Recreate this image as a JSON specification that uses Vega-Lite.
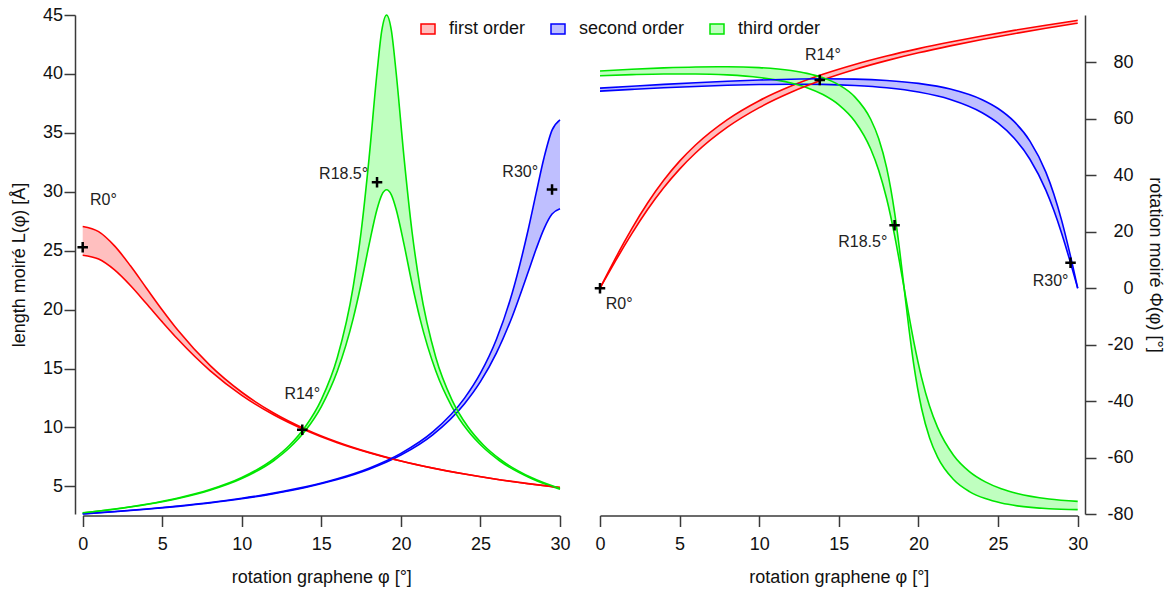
{
  "$schema": "https://vega.github.io/schema/vega-lite/v6.json",
  "width": 1010,
  "height": 499,
  "autosize": {"type": "none"},
  "padding": {"left": 75, "top": 15, "right": 86, "bottom": 76},
  "background": "white",
  "config": {
    "view": {"stroke": null},
    "font": "Liberation Sans",
    "axis": {"grid": false, "domainColor": "#3a3a3a", "domainWidth": 1.5, "tickColor": "#3a3a3a", "tickWidth": 1.5, "tickSize": 11, "labelFontSize": 18, "titleFontSize": 18, "titleFontWeight": "normal", "labelColor": "#111111", "titleColor": "#111111", "labelFont": "Liberation Sans", "titleFont": "Liberation Sans"}
  },
  "datasets": {
    "len": [
      {"order": "first order", "phi": 0, "a": 27.06, "b": 24.62},
      {"order": "first order", "phi": 1, "a": 26.62, "b": 24.29},
      {"order": "first order", "phi": 2, "a": 25.41, "b": 23.37},
      {"order": "first order", "phi": 3, "a": 23.72, "b": 22.05},
      {"order": "first order", "phi": 4, "a": 21.84, "b": 20.52},
      {"order": "first order", "phi": 5, "a": 19.97, "b": 18.96},
      {"order": "first order", "phi": 6, "a": 18.22, "b": 17.46},
      {"order": "first order", "phi": 8, "a": 15.27, "b": 14.83},
      {"order": "first order", "phi": 10, "a": 12.99, "b": 12.73},
      {"order": "first order", "phi": 12, "a": 11.23, "b": 11.08},
      {"order": "first order", "phi": 14, "a": 9.86, "b": 9.77},
      {"order": "first order", "phi": 16, "a": 8.77, "b": 8.71},
      {"order": "first order", "phi": 18, "a": 7.89, "b": 7.86},
      {"order": "first order", "phi": 20, "a": 7.16, "b": 7.15},
      {"order": "first order", "phi": 22, "a": 6.56, "b": 6.55},
      {"order": "first order", "phi": 24, "a": 6.05, "b": 6.05},
      {"order": "first order", "phi": 26, "a": 5.61, "b": 5.61},
      {"order": "first order", "phi": 28, "a": 5.23, "b": 5.24},
      {"order": "first order", "phi": 30, "a": 4.90, "b": 4.91},
      {"order": "second order", "phi": 0, "a": 2.67, "b": 2.68},
      {"order": "second order", "phi": 2, "a": 2.85, "b": 2.87},
      {"order": "second order", "phi": 4, "a": 3.06, "b": 3.09},
      {"order": "second order", "phi": 6, "a": 3.31, "b": 3.34},
      {"order": "second order", "phi": 8, "a": 3.60, "b": 3.63},
      {"order": "second order", "phi": 10, "a": 3.95, "b": 3.99},
      {"order": "second order", "phi": 12, "a": 4.38, "b": 4.43},
      {"order": "second order", "phi": 14, "a": 4.91, "b": 4.96},
      {"order": "second order", "phi": 16, "a": 5.58, "b": 5.65},
      {"order": "second order", "phi": 18, "a": 6.46, "b": 6.55},
      {"order": "second order", "phi": 20, "a": 7.66, "b": 7.80},
      {"order": "second order", "phi": 22, "a": 9.38, "b": 9.62},
      {"order": "second order", "phi": 24, "a": 12.02, "b": 12.49},
      {"order": "second order", "phi": 25, "a": 13.89, "b": 14.61},
      {"order": "second order", "phi": 26, "a": 16.31, "b": 17.47},
      {"order": "second order", "phi": 27, "a": 19.42, "b": 21.43},
      {"order": "second order", "phi": 28, "a": 23.19, "b": 26.78},
      {"order": "second order", "phi": 28.5, "a": 25.14, "b": 29.88},
      {"order": "second order", "phi": 29, "a": 26.88, "b": 32.91},
      {"order": "second order", "phi": 29.5, "a": 28.11, "b": 35.23},
      {"order": "second order", "phi": 30, "a": 28.56, "b": 36.11},
      {"order": "third order", "phi": 0, "a": 2.75, "b": 2.77},
      {"order": "third order", "phi": 2, "a": 3.06, "b": 3.09},
      {"order": "third order", "phi": 4, "a": 3.46, "b": 3.49},
      {"order": "third order", "phi": 6, "a": 3.98, "b": 4.02},
      {"order": "third order", "phi": 8, "a": 4.68, "b": 4.73},
      {"order": "third order", "phi": 10, "a": 5.67, "b": 5.75},
      {"order": "third order", "phi": 12, "a": 7.18, "b": 7.33},
      {"order": "third order", "phi": 13, "a": 8.28, "b": 8.49},
      {"order": "third order", "phi": 14, "a": 9.74, "b": 10.08},
      {"order": "third order", "phi": 15, "a": 11.78, "b": 12.37},
      {"order": "third order", "phi": 16, "a": 14.77, "b": 15.92},
      {"order": "third order", "phi": 17, "a": 19.24, "b": 21.94},
      {"order": "third order", "phi": 17.5, "a": 22.20, "b": 26.61},
      {"order": "third order", "phi": 18, "a": 25.51, "b": 32.86},
      {"order": "third order", "phi": 18.5, "a": 28.52, "b": 40.12},
      {"order": "third order", "phi": 18.8, "a": 29.74, "b": 43.69},
      {"order": "third order", "phi": 19.1, "a": 30.17, "b": 45.0},
      {"order": "third order", "phi": 19.4, "a": 29.74, "b": 43.69},
      {"order": "third order", "phi": 19.7, "a": 28.52, "b": 40.12},
      {"order": "third order", "phi": 20.2, "a": 25.51, "b": 32.86},
      {"order": "third order", "phi": 20.7, "a": 22.20, "b": 26.61},
      {"order": "third order", "phi": 21.2, "a": 19.24, "b": 21.94},
      {"order": "third order", "phi": 22.2, "a": 14.77, "b": 15.92},
      {"order": "third order", "phi": 23.2, "a": 11.78, "b": 12.37},
      {"order": "third order", "phi": 24.2, "a": 9.74, "b": 10.08},
      {"order": "third order", "phi": 25.2, "a": 8.28, "b": 8.49},
      {"order": "third order", "phi": 26.2, "a": 7.18, "b": 7.33},
      {"order": "third order", "phi": 28.2, "a": 5.67, "b": 5.75},
      {"order": "third order", "phi": 30, "a": 4.76, "b": 4.82}
    ],
    "rot": [
      {"order": "first order", "phi": 0, "a": 0, "b": 0},
      {"order": "first order", "phi": 0.5, "a": 5.49, "b": 4.99},
      {"order": "first order", "phi": 1, "a": 10.89, "b": 9.92},
      {"order": "first order", "phi": 1.5, "a": 16.12, "b": 14.73},
      {"order": "first order", "phi": 2, "a": 21.13, "b": 19.36},
      {"order": "first order", "phi": 3, "a": 30.30, "b": 27.97},
      {"order": "first order", "phi": 4, "a": 38.25, "b": 35.59},
      {"order": "first order", "phi": 5, "a": 45.02, "b": 42.20},
      {"order": "first order", "phi": 6, "a": 50.74, "b": 47.91},
      {"order": "first order", "phi": 8, "a": 59.74, "b": 57.06},
      {"order": "first order", "phi": 10, "a": 66.44, "b": 63.99},
      {"order": "first order", "phi": 12, "a": 71.63, "b": 69.42},
      {"order": "first order", "phi": 14, "a": 75.80, "b": 73.82},
      {"order": "first order", "phi": 16, "a": 79.28, "b": 77.49},
      {"order": "first order", "phi": 18, "a": 82.27, "b": 80.63},
      {"order": "first order", "phi": 20, "a": 84.89, "b": 83.40},
      {"order": "first order", "phi": 22, "a": 87.23, "b": 85.86},
      {"order": "first order", "phi": 24, "a": 89.37, "b": 88.11},
      {"order": "first order", "phi": 26, "a": 91.35, "b": 90.17},
      {"order": "first order", "phi": 28, "a": 93.19, "b": 92.09},
      {"order": "first order", "phi": 30, "a": 94.92, "b": 93.90},
      {"order": "second order", "phi": 0, "a": 69.83, "b": 70.88},
      {"order": "second order", "phi": 2, "a": 70.44, "b": 71.57},
      {"order": "second order", "phi": 4, "a": 71.00, "b": 72.22},
      {"order": "second order", "phi": 6, "a": 71.49, "b": 72.81},
      {"order": "second order", "phi": 8, "a": 71.89, "b": 73.33},
      {"order": "second order", "phi": 10, "a": 72.17, "b": 73.76},
      {"order": "second order", "phi": 12, "a": 72.29, "b": 74.06},
      {"order": "second order", "phi": 14, "a": 72.21, "b": 74.19},
      {"order": "second order", "phi": 16, "a": 71.82, "b": 74.07},
      {"order": "second order", "phi": 18, "a": 71.00, "b": 73.60},
      {"order": "second order", "phi": 20, "a": 69.50, "b": 72.57},
      {"order": "second order", "phi": 22, "a": 66.86, "b": 70.58},
      {"order": "second order", "phi": 24, "a": 62.16, "b": 66.79},
      {"order": "second order", "phi": 25, "a": 58.45, "b": 63.67},
      {"order": "second order", "phi": 26, "a": 53.21, "b": 59.09},
      {"order": "second order", "phi": 27, "a": 45.69, "b": 52.13},
      {"order": "second order", "phi": 28, "a": 34.74, "b": 41.14},
      {"order": "second order", "phi": 28.5, "a": 27.60, "b": 33.42},
      {"order": "second order", "phi": 29, "a": 19.29, "b": 23.85},
      {"order": "second order", "phi": 29.5, "a": 9.95, "b": 12.50},
      {"order": "second order", "phi": 30, "a": 0, "b": 0},
      {"order": "third order", "phi": 0, "a": 75.30, "b": 76.98},
      {"order": "third order", "phi": 2, "a": 75.69, "b": 77.57},
      {"order": "third order", "phi": 4, "a": 75.92, "b": 78.05},
      {"order": "third order", "phi": 6, "a": 75.92, "b": 78.37},
      {"order": "third order", "phi": 8, "a": 75.57, "b": 78.46},
      {"order": "third order", "phi": 10, "a": 74.66, "b": 78.15},
      {"order": "third order", "phi": 12, "a": 72.71, "b": 77.11},
      {"order": "third order", "phi": 13, "a": 71.06, "b": 76.11},
      {"order": "third order", "phi": 14, "a": 68.63, "b": 74.55},
      {"order": "third order", "phi": 15, "a": 64.98, "b": 72.05},
      {"order": "third order", "phi": 16, "a": 59.17, "b": 67.80},
      {"order": "third order", "phi": 17, "a": 49.33, "b": 59.86},
      {"order": "third order", "phi": 17.5, "a": 41.83, "b": 53.06},
      {"order": "third order", "phi": 18, "a": 31.77, "b": 42.72},
      {"order": "third order", "phi": 18.5, "a": 18.74, "b": 26.88},
      {"order": "third order", "phi": 18.8, "a": 9.64, "b": 14.25},
      {"order": "third order", "phi": 19.1, "a": 0, "b": 0},
      {"order": "third order", "phi": 19.4, "a": -9.64, "b": -14.25},
      {"order": "third order", "phi": 19.7, "a": -18.74, "b": -26.88},
      {"order": "third order", "phi": 20.2, "a": -31.77, "b": -42.72},
      {"order": "third order", "phi": 20.7, "a": -41.83, "b": -53.06},
      {"order": "third order", "phi": 21.2, "a": -49.33, "b": -59.86},
      {"order": "third order", "phi": 22.2, "a": -59.17, "b": -67.80},
      {"order": "third order", "phi": 23.2, "a": -64.98, "b": -72.05},
      {"order": "third order", "phi": 24.2, "a": -68.63, "b": -74.55},
      {"order": "third order", "phi": 25.2, "a": -71.06, "b": -76.11},
      {"order": "third order", "phi": 26.2, "a": -72.71, "b": -77.11},
      {"order": "third order", "phi": 28.2, "a": -74.66, "b": -78.15},
      {"order": "third order", "phi": 30, "a": -75.51, "b": -78.45}
    ],
    "mkL": [
      {"phi": 0, "v": 25.3},
      {"phi": 13.8, "v": 9.8},
      {"phi": 18.5, "v": 30.8},
      {"phi": 29.5, "v": 30.2}
    ],
    "lbL": [
      {"phi": 1.3, "v": 29.3, "t": "R0°"},
      {"phi": 13.8, "v": 12.8, "t": "R14°"},
      {"phi": 16.4, "v": 31.5, "t": "R18.5°"},
      {"phi": 27.5, "v": 31.7, "t": "R30°"}
    ],
    "mkR": [
      {"phi": 0, "v": 0},
      {"phi": 13.8, "v": 73.8},
      {"phi": 18.5, "v": 22.3},
      {"phi": 29.55, "v": 9.0}
    ],
    "lbR": [
      {"phi": 1.2, "v": -5.7, "t": "R0°"},
      {"phi": 14.0, "v": 82.7, "t": "R14°"},
      {"phi": 16.5, "v": 16.4, "t": "R18.5°"},
      {"phi": 28.3, "v": 2.5, "t": "R30°"}
    ]
  },
  "resolve": {"scale": {"x": "independent", "y": "independent"}},
  "layer": [
    {
      "data": {"name": "len"},
      "encoding": {
        "x": {"field": "phi", "type": "quantitative", "scale": {"domain": [0, 30], "range": [7.7, 485], "nice": false, "zero": false},
          "axis": {"orient": "bottom", "values": [0, 5, 10, 15, 20, 25, 30], "title": "rotation graphene φ [°]", "offset": 1.5, "labelPadding": 9, "titlePadding": 15, "labelFlush": false}}
      },
      "layer": [
        {
          "mark": {"type": "area", "interpolate": "monotone", "opacity": 1},
          "encoding": {
            "y": {"field": "a", "type": "quantitative", "scale": {"domain": [2.66, 45], "nice": false, "zero": false},
              "axis": {"orient": "left", "values": [5, 10, 15, 20, 25, 30, 35, 40, 45], "title": "length moiré L(φ) [Å]", "labelPadding": 1.5, "titlePadding": 14}},
            "y2": {"field": "b"},
            "fill": {"field": "order", "type": "nominal", "scale": {"domain": ["first order", "second order", "third order"], "range": ["#ffbfbf", "#bfbfff", "#bfffbf"]},
              "legend": {"title": null, "orient": "none", "legendX": 344, "legendY": 5, "direction": "horizontal", "symbolType": "M-1,-0.7143H1V0.7143H-1Z", "symbolSize": 196, "symbolStrokeWidth": 1.5, "symbolOpacity": 1, "labelFontSize": 18, "labelOffset": 12, "columnPadding": 22, "padding": 0, "labelColor": "#111111", "labelFont": "Liberation Sans"}}
          }
        },
        {
          "mark": {"type": "line", "interpolate": "monotone", "strokeWidth": 1.6},
          "encoding": {
            "y": {"field": "a", "type": "quantitative", "title": "length moiré L(φ) [Å]"},
            "stroke": {"field": "order", "type": "nominal", "scale": {"domain": ["first order", "second order", "third order"], "range": ["#ff0000", "#0000ff", "#00e600"]},
              "legend": {"title": null, "orient": "none", "legendX": 344, "legendY": 5, "direction": "horizontal", "symbolType": "M-1,-0.7143H1V0.7143H-1Z", "symbolSize": 196, "symbolStrokeWidth": 1.5, "symbolOpacity": 1, "labelFontSize": 18, "labelOffset": 12, "columnPadding": 22, "padding": 0, "labelColor": "#111111", "labelFont": "Liberation Sans"}}
          }
        },
        {
          "mark": {"type": "line", "interpolate": "monotone", "strokeWidth": 1.6},
          "encoding": {
            "y": {"field": "b", "type": "quantitative", "title": "length moiré L(φ) [Å]"},
            "stroke": {"field": "order", "type": "nominal"}
          }
        },
        {
          "data": {"name": "mkL"},
          "mark": {"type": "point", "shape": "M-1,0H1M0,-1V1", "size": 110, "stroke": "#000000", "strokeWidth": 2.5, "filled": false, "opacity": 1},
          "encoding": {"y": {"field": "v", "type": "quantitative", "title": "length moiré L(φ) [Å]"}}
        },
        {
          "data": {"name": "lbL"},
          "mark": {"type": "text", "fontSize": 16, "font": "Liberation Sans", "color": "#222222", "align": "center", "baseline": "middle"},
          "encoding": {"y": {"field": "v", "type": "quantitative", "title": "length moiré L(φ) [Å]"}, "text": {"field": "t"}}
        }
      ]
    },
    {
      "data": {"name": "rot"},
      "encoding": {
        "x": {"field": "phi", "type": "quantitative", "scale": {"domain": [0, 30], "range": [525, 1002.7], "nice": false, "zero": false},
          "axis": {"orient": "bottom", "values": [0, 5, 10, 15, 20, 25, 30], "title": "rotation graphene φ [°]", "offset": 1.5, "labelPadding": 9, "titlePadding": 15, "labelFlush": false}}
      },
      "layer": [
        {
          "mark": {"type": "area", "interpolate": "monotone", "opacity": 1},
          "encoding": {
            "y": {"field": "a", "type": "quantitative", "scale": {"domain": [-80, 96.8], "nice": false, "zero": false},
              "axis": {"orient": "right", "values": [-80, -60, -40, -20, 0, 20, 40, 60, 80], "title": "rotation moiré Φ(φ) [°]", "labelAlign": "right", "labelPadding": 37, "titlePadding": 12, "labelExpr": "replace(datum.label, '−', '-')"}},
            "y2": {"field": "b"},
            "fill": {"field": "order", "type": "nominal"}
          }
        },
        {
          "mark": {"type": "line", "interpolate": "monotone", "strokeWidth": 1.6},
          "encoding": {
            "y": {"field": "a", "type": "quantitative", "title": "rotation moiré Φ(φ) [°]"},
            "stroke": {"field": "order", "type": "nominal"}
          }
        },
        {
          "mark": {"type": "line", "interpolate": "monotone", "strokeWidth": 1.6},
          "encoding": {
            "y": {"field": "b", "type": "quantitative", "title": "rotation moiré Φ(φ) [°]"},
            "stroke": {"field": "order", "type": "nominal"}
          }
        },
        {
          "data": {"name": "mkR"},
          "mark": {"type": "point", "shape": "M-1,0H1M0,-1V1", "size": 110, "stroke": "#000000", "strokeWidth": 2.5, "filled": false, "opacity": 1},
          "encoding": {"y": {"field": "v", "type": "quantitative", "title": "rotation moiré Φ(φ) [°]"}}
        },
        {
          "data": {"name": "lbR"},
          "mark": {"type": "text", "fontSize": 16, "font": "Liberation Sans", "color": "#222222", "align": "center", "baseline": "middle"},
          "encoding": {"y": {"field": "v", "type": "quantitative", "title": "rotation moiré Φ(φ) [°]"}, "text": {"field": "t"}}
        }
      ]
    }
  ]
}
